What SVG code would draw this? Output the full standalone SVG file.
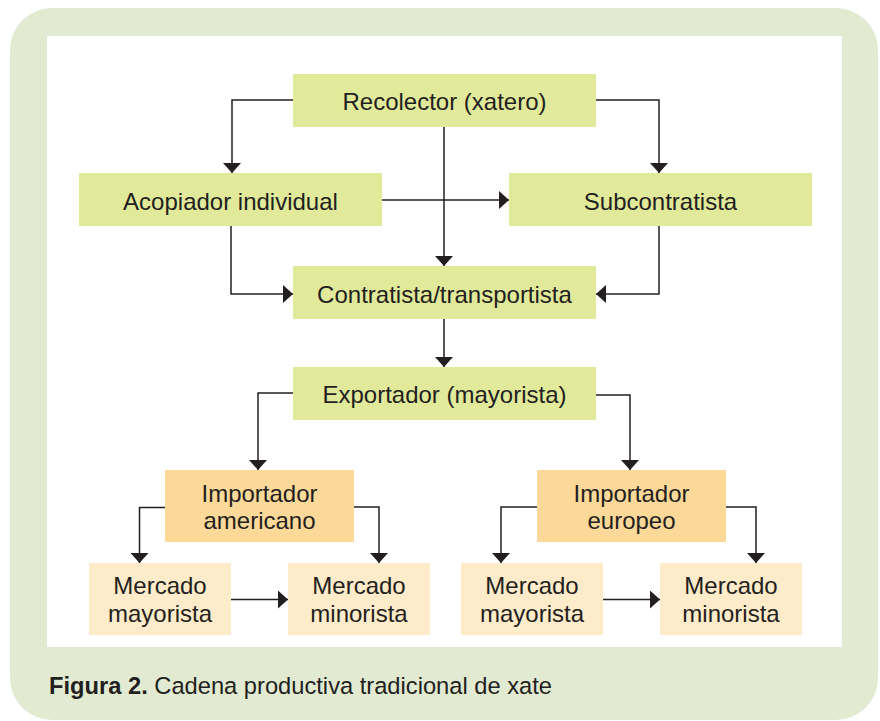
<svg xmlns="http://www.w3.org/2000/svg" width="880" height="721" viewBox="0 0 880 721">
<defs>
<style>
.t{font-family:"Liberation Sans",Arial,Helvetica,sans-serif;font-size:24px;fill:#231f20;text-anchor:middle}
.g{fill:#e1e99b}
.o{fill:#fcd998}
.m{fill:#fdebc9}
.c{fill:none;stroke:#231f20;stroke-width:1.5;marker-end:url(#ah)}
.cap{font-family:"Liberation Sans",Arial,Helvetica,sans-serif;font-size:23.7px;fill:#231f20}
</style>
<marker id="ah" viewBox="0 0 10 18" markerWidth="10" markerHeight="18" refX="10" refY="9" orient="auto" markerUnits="userSpaceOnUse">
<path d="M0,0 L10,9 L0,18 Z" fill="#231f20"/>
</marker>
</defs>
<rect x="10" y="8" width="868" height="712" rx="42" ry="42" fill="#e2ebd2"/>
<rect x="47" y="36" width="795" height="611" fill="#ffffff"/>
<g id="connectors">
<path class="c" d="M293,100 H232 V173"/>
<path class="c" d="M596,100 H659 V173"/>
<path class="c" d="M444,127 V266"/>
<path class="c" d="M382,200 H509"/>
<path class="c" d="M231,226 V294 H293"/>
<path class="c" d="M659,226 V294 H596"/>
<path class="c" d="M444,319 V367"/>
<path class="c" d="M293,393 H258 V470"/>
<path class="c" d="M596,395 H630 V470"/>
<path class="c" d="M165,507.5 H139.5 V563"/>
<path class="c" d="M354,507 H379 V563"/>
<path class="c" d="M231,599.5 H288"/>
<path class="c" d="M537,507 H501 V563"/>
<path class="c" d="M726,507 H756 V563"/>
<path class="c" d="M603,599.5 H660"/>
</g>
<g id="recolector"><rect class="g" x="293" y="74" width="303" height="53"/><text class="t" x="444.5" y="110">Recolector (xatero)</text></g>
<g id="acopiador"><rect class="g" x="79" y="173" width="303" height="53"/><text class="t" x="230.5" y="209.5">Acopiador individual</text></g>
<g id="subcontratista"><rect class="g" x="509" y="173" width="303" height="53"/><text class="t" x="660.5" y="209.5">Subcontratista</text></g>
<g id="contratista"><rect class="g" x="293" y="266" width="303" height="53"/><text class="t" x="444.5" y="302.5">Contratista/transportista</text></g>
<g id="exportador"><rect class="g" x="293" y="367" width="303" height="53"/><text class="t" x="444.5" y="402.5">Exportador (mayorista)</text></g>
<g id="imp-americano"><rect class="o" x="165" y="470" width="189" height="72"/><text class="t" x="259.5" y="501.5">Importador</text><text class="t" x="259.5" y="528.5">americano</text></g>
<g id="imp-europeo"><rect class="o" x="537" y="470" width="189" height="72"/><text class="t" x="631.5" y="501.5">Importador</text><text class="t" x="631.5" y="528.5">europeo</text></g>
<g id="may-am"><rect class="m" x="89" y="563" width="142" height="72"/><text class="t" x="160" y="593.5">Mercado</text><text class="t" x="160" y="621.5">mayorista</text></g>
<g id="min-am"><rect class="m" x="288" y="563" width="142" height="72"/><text class="t" x="359" y="593.5">Mercado</text><text class="t" x="359" y="621.5">minorista</text></g>
<g id="may-eu"><rect class="m" x="461" y="563" width="142" height="72"/><text class="t" x="532" y="593.5">Mercado</text><text class="t" x="532" y="621.5">mayorista</text></g>
<g id="min-eu"><rect class="m" x="660" y="563" width="142" height="72"/><text class="t" x="731" y="593.5">Mercado</text><text class="t" x="731" y="621.5">minorista</text></g>
<text class="cap" x="49" y="694"><tspan font-weight="bold">Figura 2.</tspan> Cadena productiva tradicional de xate</text>
</svg>
